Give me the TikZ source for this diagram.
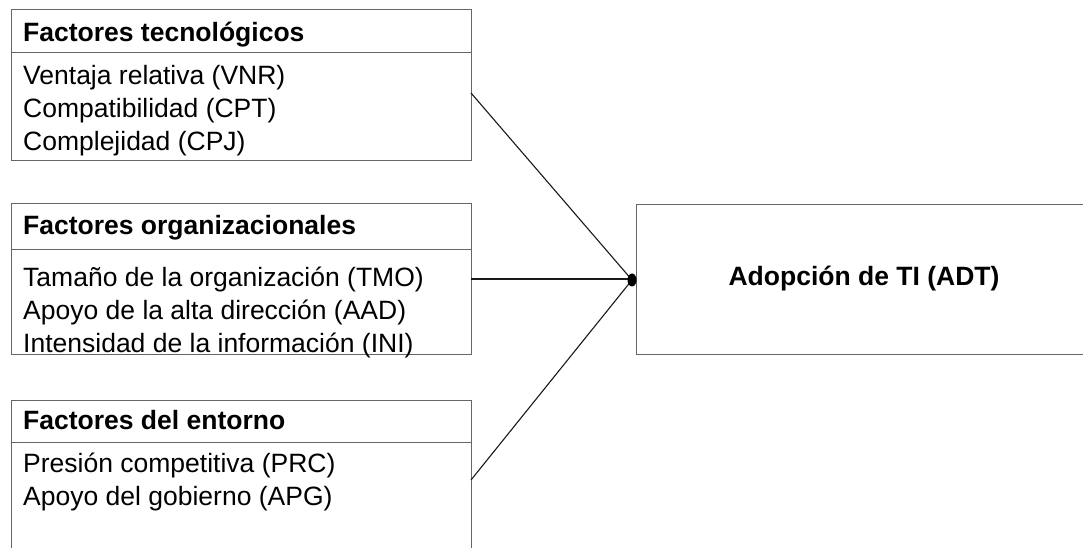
\documentclass[tikz,border=0pt]{standalone}
\usepackage{fontspec}
\setmainfont{Liberation Sans}
\begin{document}
\begin{tikzpicture}[x=1bp,y=-1bp,
  frame/.style={draw=black!60, line width=1.4bp, inner sep=0pt, anchor=north west},
  txt/.style={anchor=base west, inner sep=0pt, font=\fontsize{26.5bp}{32bp}\selectfont},
  hdr/.style={txt, font=\fontsize{26.5bp}{32bp}\selectfont\bfseries},
  link/.style={draw=black!90, line width=1.1bp}]
\useasboundingbox (0,0) rectangle (1083,548);
\clip (0,0) rectangle (1083,548);
% box 1
\node[frame, minimum width=460bp, minimum height=43bp] (h1) at (11,9) {};
\node[frame, minimum width=460bp, minimum height=108bp] (b1) at (11,52) {};
\node[hdr] (h1t) at (23,42) {Factores tecnológicos};
\node[txt] (b1a) at (23,85) {Ventaja relativa (VNR)};
\node[txt] (b1b) at (23,118) {Compatibilidad (CPT)};
\node[txt] (b1c) at (23,151) {Complejidad (CPJ)};
% box 2
\node[frame, minimum width=460bp, minimum height=46bp] (h2) at (11,203) {};
\node[frame, minimum width=460bp, minimum height=105bp] (b2) at (11,249) {};
\node[hdr] (h2t) at (23,235) {Factores organizacionales};
\node[txt] (b2a) at (23,287) {Tamaño de la organización (TMO)};
\node[txt] (b2b) at (23,320) {Apoyo de la alta dirección (AAD)};
\node[txt] (b2c) at (23,353) {Intensidad de la información (INI)};
% box 3
\node[frame, minimum width=460bp, minimum height=42bp] (h3) at (11,400) {};
\node[frame, minimum width=460bp, minimum height=130bp] (b3) at (11,442) {};
\node[hdr] (h3t) at (23,429) {Factores del entorno};
\node[txt] (b3a) at (23,472) {Presión competitiva (PRC)};
\node[txt] (b3b) at (23,505) {Apoyo del gobierno (APG)};
% target
\node[frame, minimum width=458bp, minimum height=150bp] (adt) at (636,204) {};
\node[hdr, anchor=center] (adtt) at (864,279) {Adopción de TI (ADT)};
% connectors
\coordinate (j) at (632,280);
\coordinate (s1) at (471,93);
\coordinate (s2) at (471,279);
\coordinate (s3) at (471,480);
\draw[link] (s1) -- (j);
\draw[link] (s2) -- (j |- s2);
\draw[link] (s3) -- (j);
\fill[black] (j) ellipse [x radius=4.5bp, y radius=6.5bp];
\end{tikzpicture}
\end{document}
